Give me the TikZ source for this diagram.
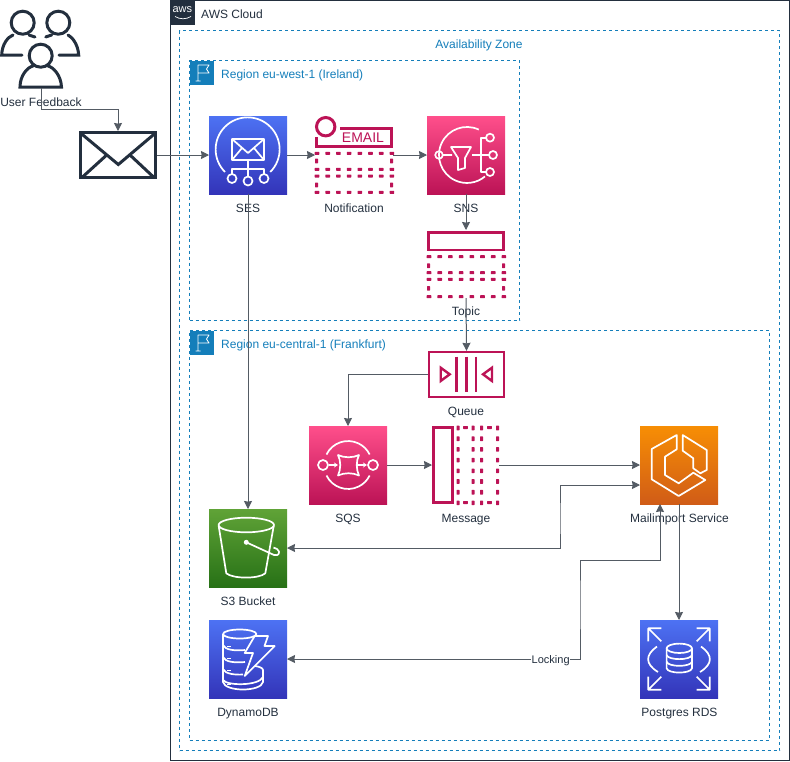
\documentclass[tikz,border=0pt]{standalone}
\usepackage{fontspec}
\setmainfont{Liberation Sans}
\usepackage{xcolor}
\usetikzlibrary{arrows.meta, positioning, calc}
\definecolor{awsink}{HTML}{232F3E}
\definecolor{awsline}{HTML}{545B64}
\definecolor{awszone}{HTML}{147EBA}
\definecolor{awspink}{HTML}{BC1356}
\definecolor{pinktop}{HTML}{FF4F8B}
\definecolor{bluetop}{HTML}{4D72F3}
\definecolor{bluebot}{HTML}{3334B9}
\definecolor{greentop}{HTML}{60A337}
\definecolor{greenbot}{HTML}{277116}
\definecolor{orangetop}{HTML}{F78E04}
\definecolor{orangebot}{HTML}{D05C17}
% one dot of the dotted pink outlines, lying and standing
\newcommand{\dotflat}[2]{\fill[awspink, rounded corners=0.5pt] (#1-2.3,#2-1.5) rectangle +(4.6,3);}
\newcommand{\dotup}[2]{\fill[awspink, rounded corners=0.5pt] (#1-1.5,#2-2.3) rectangle +(3,4.6);}

\begin{document}
\begin{tikzpicture}[
    x=1pt, y=-1pt,
    font=\fontsize{12}{14}\selectfont, text=awsink,
    tile/.style={minimum size=78pt, inner sep=0pt, outer sep=0pt},
    bluetile/.style={tile, top color=bluetop, bottom color=bluebot},
    pinktile/.style={tile, top color=pinktop, bottom color=awspink},
    greentile/.style={tile, top color=greentop, bottom color=greenbot},
    orangetile/.style={tile, top color=orangetop, bottom color=orangebot},
    plainbox/.style={inner sep=0pt, outer sep=0pt},
    lbl/.style={text height=9.5pt, text depth=1.5pt, inner sep=0pt},
    zone/.style={draw=awszone, dash pattern=on 3pt off 3pt, line width=0.8pt, plainbox, anchor=north west},
    zlbl/.style={lbl, text=awszone},
    arr/.style={-{Stealth[length=8pt, width=8pt, inset=0.6pt]}, draw=awsline, line width=1pt},
    darr/.style={{Stealth[length=8pt, width=8pt, inset=0.6pt]}-{Stealth[length=8pt, width=8pt, inset=0.6pt]}, draw=awsline, line width=1pt},
    wicon/.style={draw=white, line width=1.7pt, line join=round},
    picon/.style={draw=awspink, line width=2.8pt},
    dicon/.style={draw=awsink, line width=3pt},
  ]
    \useasboundingbox (0,0) rectangle (790,761);

    % Cloud + zones
    \node[plainbox, draw=awsink, line width=1pt, anchor=north west, minimum width=619pt, minimum height=760pt] (cloud) at (170,0.5) {};
    \node[plainbox, fill=awsink, anchor=north west, minimum width=24.5pt, minimum height=25pt] (awslogo) at (170,0) {};
    \node[font=\fontsize{11}{11}\selectfont, text=white, plainbox] (awstext) at (182.3,10) {aws};
    \draw[white, line width=0.7pt] (175,16.5) .. controls (180,19.5) and (186,19.5) .. (191,16.5);
    \node[lbl, anchor=west] (cloudlbl) at (201,14) {AWS Cloud};
    \node[zone, minimum width=600pt, minimum height=720pt] (azone) at (179.5,30.5) {};
    \node[zlbl] (azonelbl) at (479,44) {Availability Zone};

    % Regions
    \node[zone, minimum width=330pt, minimum height=260pt] (west) at (189.5,60.5) {};
    \node[zone, minimum width=580pt, minimum height=409.5pt] (central) at (189.5,330.5) {};
    \foreach \rname/\ry/\rtext in {flagw/60.5/{Region eu-west-1 (Ireland)}, flagc/330.5/{Region eu-central-1 (Frankfurt)}} {
      \node[plainbox, fill=awszone, anchor=north west, minimum width=24.5pt, minimum height=24.5pt] (\rname) at (189.5,\ry) {};
      \node[zlbl, anchor=west] at (221,\ry+13.5) {\rtext};
      \draw[white, line width=0.8pt, line join=round, shift={(\rname.north west)}]
        (6,20.5) -- (11,20.5) (8.5,20.5) -- (8.5,4.5) -- (19.5,4.5) -- (17,8.5) -- (19.5,12.5) -- (8.5,12.5);
    }

    % Users
    \node[plainbox, minimum width=80pt, minimum height=78pt] (users) at (41,49) {};
    \begin{scope}[dicon, line cap=round]
      \draw (22.7,22.7) circle[radius=11.5];
      \draw (58.3,22.7) circle[radius=11.5];
      \draw (40.7,55.7) circle[radius=11.5];
      \draw (22,55) -- (1.7,55) .. controls (2,44) and (8,37) .. (13,35) (29,35) -- (35,37);
      \draw (59,55) -- (78.7,55) .. controls (78,44) and (72,37) .. (68,35) (51.7,35) -- (45.7,37);
      \draw (33,66) .. controls (28,67) and (20,75) .. (20,87) -- (61.5,87) .. controls (61,75) and (53,67) .. (48,66);
    \end{scope}
    \node[lbl] (userslbl) at (41,102) {User Feedback};

    % Envelope
    \node[plainbox, draw=awsink, line width=3pt, minimum width=75pt, minimum height=45pt] (mail) at (118,155) {};
    \draw[dicon] (80.5,133) -- (118.3,164.5) -- (155.5,133) (82.5,177) -- (106.7,155) (153.5,177) -- (130,155);

    % SES
    \node[bluetile] (ses) at (248,155) {};
    \node[lbl] (seslbl) at (248,208) {SES};
    \begin{scope}[shift={(ses.north west)}]
      \draw[wicon] (16,56) arc[start angle=135, end angle=405, radius=32];
      \draw[wicon] (23,23) rectangle (55,44) (23,23) -- (39,37) -- (55,23) (23,44) -- (33,32) (55,44) -- (45,32);
      \draw[wicon] (39,44) -- (39,60.5) (23,58) -- (23,53) -- (55,53) -- (55,58);
      \foreach \cx/\cy in {23/62.5, 39/65, 55/62.5} \draw[wicon] (\cx,\cy) circle[radius=4.5];
    \end{scope}

    % Notification
    \node[tile] (notif) at (354,155) {};
    \node[lbl] (notiflbl) at (354,208) {Notification};
    \begin{scope}[shift={(notif.north west)}]
      \draw[picon, line width=3pt] (10.7,10.7) circle[radius=9.2];
      \draw[picon] (25,12.5) -- (76.7,12.5) -- (76.7,30.5) -- (1.3,30.5) -- (1.3,21);
      \node[font=\fontsize{14}{14}\selectfont, text=awspink, plainbox] (emailtxt) at (48,21.7) {EMAIL};
      \foreach \dy in {37.3, 53.3, 60, 76.3}
        \foreach \dx in {2,12.7,...,77} {\dotflat{\dx}{\dy}}
      \foreach \dx in {1.5, 76.5}
        \foreach \dy in {45, 69} {\dotup{\dx}{\dy}}
    \end{scope}

    % SNS
    \node[pinktile] (sns) at (466,155) {};
    \node[lbl] (snslbl) at (466,208) {SNS};
    \begin{scope}[shift={(sns.north west)}]
      \draw[wicon] (51.8,13.6) arc[start angle=-65, end angle=-310, radius=28];
      \draw[wicon] (12,39) circle[radius=3.8] (15.8,39) -- (25,39);
      \draw[wicon] (24,31) -- (44,31) -- (38,42) -- (38,52) -- (31,54) -- (31,42) -- cycle;
      \draw[wicon] (45,39) -- (62,39) (59,21.7) -- (54.3,21.7) -- (54.3,56) -- (59,56);
      \foreach \cx/\cy in {66/39, 63/21.7, 63/56} \draw[wicon] (\cx,\cy) circle[radius=4];
    \end{scope}

    % Topic
    \node[plainbox, minimum width=78pt, minimum height=68pt] (topic) at (466,264) {};
    \node[lbl] (topiclbl) at (466,311) {Topic};
    \begin{scope}[shift={(topic.north west)}]
      \draw[picon] (1.3,2.3) rectangle (76.7,20);
      \foreach \dy in {26.7, 42.7, 49.3, 66.7}
        \foreach \dx in {2,12.7,...,77} {\dotflat{\dx}{\dy}}
      \foreach \dx in {1.5, 76.5}
        \foreach \dy in {35.7, 58.3} {\dotup{\dx}{\dy}}
    \end{scope}

    % Queue
    \node[plainbox, minimum width=75pt, minimum height=45pt, draw=awspink, line width=2.4pt] (queue) at (466.5,374.5) {};
    \node[lbl] (queuelbl) at (466,411) {Queue};
    \begin{scope}[shift={(queue.north west)}, picon, line width=2.4pt]
      \draw (27.3,4.7) -- (27.3,39.7) (37.3,4.7) -- (37.3,39.7) (47,4.7) -- (47,39.7);
      \draw (11.7,15.7) -- (20.7,22.3) -- (11.7,29) -- cycle;
      \draw (63,15.7) -- (54,22.3) -- (63,29) -- cycle;
    \end{scope}

    % SQS
    \node[pinktile] (sqs) at (348,465) {};
    \node[lbl] (sqslbl) at (348,518) {SQS};
    \begin{scope}[shift={(sqs.north west)}]
      \draw[wicon] (17.5,28.5) arc[start angle=206, end angle=334, radius=24];
      \draw[wicon] (17.5,49.5) arc[start angle=154, end angle=26, radius=24];
      \draw[wicon] (14,39) circle[radius=5] (64,39) circle[radius=5];
      \draw[wicon] (29,29) .. controls (35,32) and (44,32) .. (50,29) .. controls (47,35) and (47,43) .. (50,49.5)
        .. controls (44,46.5) and (35,46.5) .. (29,49.5) .. controls (32,43) and (32,35) .. cycle;
      \draw[wicon, -{Stealth[length=4pt, width=5pt]}] (20,39) -- (29,39);
      \draw[wicon, -{Stealth[length=4pt, width=5pt]}] (48,39) -- (58,39);
    \end{scope}

    % Message
    \node[plainbox, minimum width=67pt, minimum height=78pt] (msg) at (465.5,465) {};
    \node[lbl] (msglbl) at (466,518) {Message};
    \begin{scope}[shift={(msg.north west)}]
      \draw[picon, line width=3pt] (1.5,1.5) rectangle (20,76.5);
      \foreach \dx in {26, 41, 49.5, 65.5}
        \foreach \dy in {2,12.7,...,77} {\dotup{\dx}{\dy}}
      \foreach \dy in {1.5, 76.5}
        \foreach \dx in {33.5, 57.5} {\dotflat{\dx}{\dy}}
    \end{scope}

    % Mailimport Service
    \node[orangetile] (mailimp) at (679,465) {};
    \node[lbl] (mailimplbl) at (679.5,518) {Mailimport Service};
    \begin{scope}[shift={(mailimp.north west)}]
      \draw[wicon] (36.7,9) -- (11.7,23) -- (11.7,53.3) -- (38.7,70) -- (65.3,54) -- (53.3,46.7) -- (38.7,57.3) -- (25,49) -- (25,30.7) -- (36.7,23.3) -- cycle;
      \draw[wicon] (42.7,9) -- (66.7,24) -- (66.7,44) -- (60.3,47.3) -- (53.3,42.3) -- (53.3,32.3) -- (42.7,24.7) -- cycle;
    \end{scope}

    % S3 Bucket
    \node[greentile] (bucket) at (248,548) {};
    \node[lbl] (bucketlbl) at (248,601) {S3 Bucket};
    \begin{scope}[shift={(bucket.north west)}]
      \draw[wicon] (37.3,16) circle[x radius=27.7, y radius=7.3];
      \draw[wicon] (9.7,17) -- (17.3,64.3) .. controls (24,70) and (50,70) .. (56.3,64.3) -- (64.7,17);
      \fill[white] (37.3,33.3) circle[radius=2.5];
      \draw[wicon] (37.3,33.3) -- (65,46) .. controls (70,47.5) and (72,43) .. (68,40) .. controls (67,39.5) and (65.5,39) .. (64.5,38.5);
    \end{scope}

    % DynamoDB
    \node[bluetile] (dynamo) at (248,659) {};
    \node[lbl] (dynamolbl) at (248,712) {DynamoDB};
    \begin{scope}[shift={(dynamo.north west)}]
      \draw[wicon] (30.7,14) circle[x radius=16.7, y radius=4.5];
      \draw[wicon] (14,14) -- (14,62) .. controls (16,72) and (52,72) .. (54,62) -- (54,50) .. controls (54,48) and (50,46.5) .. (46,46);
      \draw[wicon] (47.4,14) -- (47.4,16);
      \draw[wicon] (14,25) .. controls (16,30) and (26,31) .. (36,30);
      \draw[wicon] (14,37) .. controls (16,42) and (26,43) .. (36,42);
      \draw[wicon] (14,49) .. controls (16,54) and (26,55) .. (34,54.5);
      \draw[wicon] (14,60) .. controls (18,66) and (50,66) .. (54,57);
      \foreach \dy in {26, 38, 50, 64} \draw[wicon, line width=1pt] (18,\dy) -- (22,\dy);
      \draw[wicon] (45.7,16) -- (59,16) -- (55.5,26) -- (65.7,26) -- (35.7,56) -- (44,33) -- (35.7,33) -- cycle;
    \end{scope}

    % Postgres RDS
    \node[bluetile] (rds) at (679,659) {};
    \node[lbl] (rdslbl) at (679.5,712) {Postgres RDS};
    \begin{scope}[shift={(rds.north west)}]
      \draw[wicon] (39.3,28.3) circle[x radius=12.7, y radius=4.7];
      \draw[wicon] (26.6,28.3) -- (26.6,48.3) .. controls (28,54) and (50.6,54) .. (52,48.3) -- (52,28.3);
      \draw[wicon] (26.6,35) .. controls (28,40.5) and (50.6,40.5) .. (52,35);
      \draw[wicon] (26.6,41.7) .. controls (28,47.2) and (50.6,47.2) .. (52,41.7);
      \draw[wicon] (17,26.5) .. controls (5,35) and (5,44) .. (18,52);
      \draw[wicon] (61,26.5) .. controls (73,35) and (73,44) .. (60,52);
      \foreach \cx/\cy/\sx/\sy in {8.3/8.3/1/1, 69.7/8.3/-1/1, 8.3/69.7/1/-1, 69.7/69.7/-1/-1}
        \draw[wicon] (\cx+13*\sx,\cy) -- (\cx,\cy) -- (\cx,\cy+13*\sy) (\cx,\cy) -- (\cx+13*\sx,\cy+13*\sy);
    \end{scope}

    % Bends of the long connectors
    \coordinate (mailbend) at (118,109);
    \coordinate (bucketbus) at (560,520);
    \coordinate (dynamobus) at (580,600);
    \coordinate (queuebend) at (348,374.5);

    % Connectors
    \draw[arr] (users.south) |- (mailbend) -- ([yshift=1.5pt]mail.north);
    \draw[arr] ([xshift=1.5pt]mail.east) -- (ses.west);
    \draw[arr] (ses.east) -- (notif.west);
    \draw[arr] (notif.east) -- (sns.west);
    \draw[arr] (sns.south) -- (topic.north);
    \draw[arr] (topic.south) -- ([yshift=1.2pt]queue.north);
    \draw[arr] (ses.south) -- (bucket.north);
    \draw[arr] ([xshift=-1.2pt]queue.west) -- (queuebend) -- (sqs.north);
    \draw[arr] (sqs.east) -- (msg.west);
    \draw[arr] (msg.east) -- (mailimp.west);
    \draw[darr] (bucket.east) -| (bucketbus) |- ([yshift=-20pt]mailimp.west);
    \draw[darr] (dynamo.east) -|
      node[lbl, fill=white, inner xsep=0.5pt, font=\fontsize{11}{13}\selectfont, pos=0.45] (lockinglbl) {Locking} (dynamobus)
      |- ([xshift=-19pt, yshift=-56pt]mailimp.south) -- ([xshift=-19pt]mailimp.south);
    \draw[arr] (mailimp.south) -- (rds.north);
  \end{tikzpicture}
\end{document}
